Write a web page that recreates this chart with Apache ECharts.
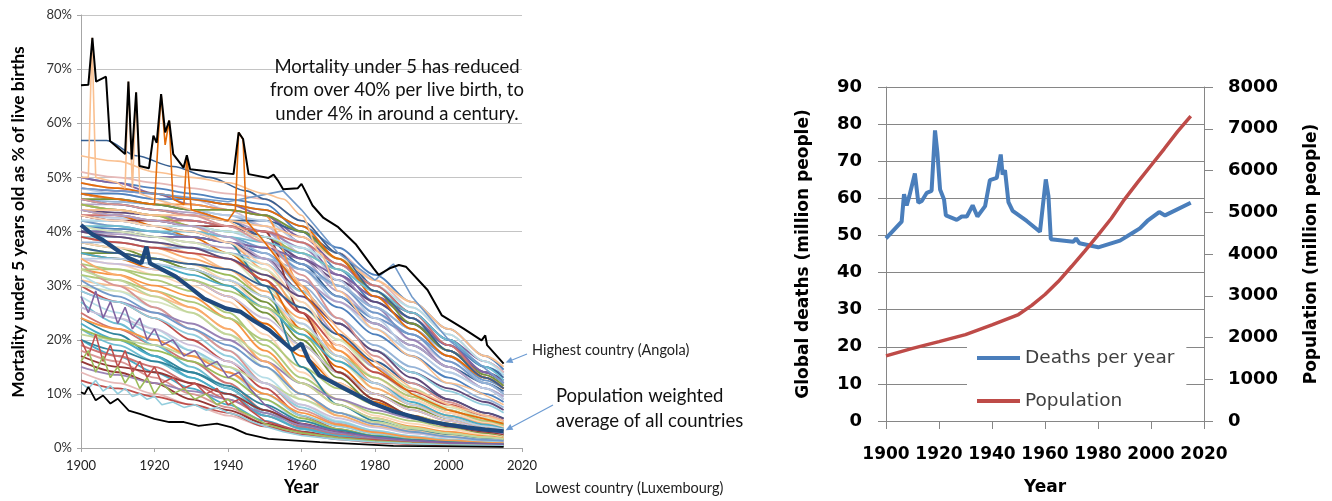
<!DOCTYPE html>
<html><head><meta charset="utf-8">
<script src="https://cdn.jsdelivr.net/npm/echarts@6/dist/echarts.min.js"></script>
<style>html,body{margin:0;padding:0;background:#fff}#c{width:1332px;height:501px}</style>
</head><body><div id="c"></div>
<script>
// ---------- LEFT CHART DATA (under-5 mortality, % of live births) ----------
const years = [1900,1910,1920,1930,1940,1950,1960,1970,1980,1990,2000,2010,2015];
const countryRates = [
  [50,49,48,47,46,45,40,33,27,23,19,15,13.5],
  [40,39,38,36,33,28,22,16,12,9,6.5,4.5,3.8],
  [28,25,22,18,14,9,5,3,2,1.4,1,0.7,0.6],
  [48,47.5,47,46,45,43,38,32,28,25,20,16,14],
  [38,37,35,33,30,25,19,14,10,7.5,5.5,4,3.2],
  [25,22,19,16,12,7,4,2.5,1.6,1.1,0.8,0.6,0.5],
  [46,45.5,45,44,43,41,36,30,26,22,18,14,12],
  [36,35,33,31,28,23,17,12,8.5,6,4.5,3.2,2.6],
  [22,19,16,13,10,6,3.5,2.2,1.5,1,0.7,0.5,0.4],
  [45,45,44,43.5,42,40,35,29,24,21,17,13,11.5],
  [42,41,39,37,35,30,23,16,11,8,6,4.2,3.5],
  [30,27,24,20,16,11,6,3.5,2.2,1.5,1.1,0.8,0.7],
  [47,46,45,44,42,39,34,28,23,19,15,12,10.5],
  [35,34,32,30,27,21,14,9,6,4.5,3.5,2.5,2],
  [20,17,14,11,8,5,3,2,1.3,0.9,0.6,0.5,0.4],
  [44,43.5,43,42,41,39,35,31,27,23,18,14,12.5],
  [34,33,31,29,25,19,13,9,6.5,5,3.8,2.8,2.3],
  [18,16,13,10,7.5,4.5,2.8,1.8,1.2,0.8,0.6,0.4,0.35],
  [43,42.5,42,41,40,38,33,27,22,18,14,11,9.5],
  [39,38,37,35,33,29,24,18,13,9.5,7,5,4.2],
  [26,24,21,18,15,10,6,4,2.6,1.8,1.2,0.9,0.8],
  [49,48,47,46,44,41,36,30,25,20,16,12,10],
  [37,36,35,34,32,28,21,14,9,6,4.2,3,2.5],
  [16,14,12,9,7,4.5,3,2,1.3,0.9,0.6,0.45,0.4],
  [42,42,41,40,39,37,33,28,24,21,17,12.5,11],
  [33,32,30,28,24,18,12,8,5.5,4,3,2.2,1.8],
  [24,21,17,14,11,7,4.2,2.7,1.7,1.2,0.8,0.6,0.5],
  [45,44,43,42,41,40,37,32,26,20,15,11,9],
  [41,40,39,38,36,32,26,20,15,11,8,5.5,4.6],
  [14,12,10,8,6,4,2.6,1.8,1.1,0.8,0.5,0.4,0.35],
  [41,40.5,40,39,38,36,31,26,21,17,13,10,8.5],
  [31,30,28,26,22,16,10,6.5,4.5,3.2,2.4,1.8,1.5],
  [32,29,26,22,18,13,8,5,3.2,2.2,1.5,1.1,0.9],
  [50,49,47,45,44,43,39,34,29,24,19,14,12],
  [36,36,35,33,31,27,20,13,8,5.5,4,2.8,2.3],
  [19,17,15,12,9,6,3.8,2.5,1.6,1.1,0.8,0.6,0.5],
  [44,43,42,41,39,36,30,24,19,15,12,9,7.5],
  [44,43,41,39,36,31,22,15,10,7,5,3.6,3],
  [27,23,19,15,11,6.5,3.5,2.2,1.4,1,0.7,0.5,0.45],
  [40,39.5,39,38,37,35,31,27,23,19,15,11,9.5],
  [30,29,27,25,21,15,9,6,4,3,2.2,1.6,1.3],
  [12.5,11,9.5,8,6.5,4,2.5,1.6,1,0.7,0.5,0.4,0.3],
  [46,45,44,43,42,42,40,36,30,25,20,15,13],
  [38,37,36,34,31,26,18,12,8,5.5,4,3,2.4],
  [23,20,17,13,10,6,3.6,2.3,1.5,1.1,0.8,0.6,0.5],
  [43,42,41,40,38,35,29,23,18,14,11,8.5,7],
  [32,31,29,27,24,20,15,11,8,6,4.5,3.4,2.8],
  [34,30,26,22,18,12,7,4.5,3,2,1.4,1,0.8],
  [48,47,46,44,43,42,38,31,24,18,14,11,9],
  [45,44,43,41,38,33,25,17,11,8,6,4.5,3.8],
  [39,39,38,37,36,34,29,23,18,14,10.5,8,6.5],
  [35,34,33,31,28,24,19,14,10,7,5,3.6,3],
  [45,44,43,41,40,39,36,33,29,24,18,13,11],
  [43,42,42,41,41,40,25,14,9,6,4,3,2.5],
  [42,41,40,39,38,37,34,30,25,21,16,12,10],
  [47,46,45,45,44,43,30,18,12,8,5.5,4,3.3],
  [40,40,39,39,38,30,15,8,5,3.5,2.6,1.9,1.6],
  [29,27,25,23,20,16,12,9,7,5.5,4.2,3.2,2.7],
  [21,20,19,17,15,12,9,6.5,4.8,3.6,2.7,2,1.7],
  [51,50,49,48,47,46,42,36,31,26,21,16,14],
  [47,47,46,46,45,44,41,37,32,27,22,17,14.5],
  [44,44,43,43,42,41,39,35,31,27,22,17,15],
  [42,42,41,41,40,39,37,34,30,26,21,16,13.5],
  [40,40,39,39,38,37,35,32,28,24,19,14,12],
  [46,46,45,44,44,43,40,35,29,23,18,13.5,11.5],
  [43,43,42,42,41,40,38,34,30,25,19,13,11],
  [38,38,37,37,36,35,33,30,26,22,17,12,10],
  [49,48,47,46,45,44,41,35,28,22,17,13,11],
  [41,41,40,40,39,38,36,33,29,25,20,15,12.5],
  [44,43,42,41,39,35,28,21,15,10,7,5,4.2],
  [41,40,39,38,36,33,27,20,14,10,7.5,5.5,4.6],
  [39,38,37,36,35,31,25,19,14,10.5,8,6,5],
  [37,36,35,34,33,30,26,21,16,12,9,6.5,5.5],
  [43,42,41,40,38,34,27,19,13,9,6.5,4.8,4],
  [36,35,34,32,30,26,21,16,12,8.5,6,4.3,3.6],
  [40,39,38,37,35,32,28,23,18,13,9,6.5,5.4],
  [33,33,32,31,29,26,22,17,13,9.5,7,5,4.2],
  [46,45,44,43,41,38,32,24,17,12,8.5,6,5],
  [35,35,34,33,31,28,23,17,12,8,5.5,4,3.4],
  [35,32,29,26,22,16,10,6,4,2.8,2,1.4,1.2],
  [29,27,24,21,17,12,7.5,4.8,3.2,2.2,1.6,1.2,1],
  [26,24,22,19,16,12,8,5.5,3.8,2.7,2,1.5,1.3],
  [22,20,18,16,13,9,5.5,3.5,2.3,1.6,1.1,0.8,0.7],
  [17,15,14,12,10,7,4.5,3,2,1.4,1,0.7,0.6],
  [31,28,25,22,19,15,10,6.5,4.4,3,2.1,1.5,1.3],
  [24,22,20,17,14,10,6.5,4.3,2.9,2,1.4,1,0.9],
  [20,18,16,14,11.5,8,5,3.3,2.2,1.5,1.1,0.8,0.7],
  [15,13.5,12,10.5,9,6.5,4.2,2.8,1.9,1.3,0.9,0.7,0.6],
  [33,31,28,25,21,17,12,8,5.5,3.8,2.7,2,1.7]
];
const palette = ['#4F81BD','#C0504D','#9BBB59','#8064A2','#4BACC6','#F79646','#95B3D7','#D99694','#C3D69B','#B3A2C7','#93CDDD','#FAC090','#376092','#953735','#77933C','#604A7B','#31859C','#E46C0A','#B9CDE5','#E6B9B8','#D7E4BD','#CCC1DA','#B7DEE8','#FCD5B5','#729ACA','#CD7371','#AFC97A','#9983B5','#6FBDD1','#F9AB6B'];

const noisyYears = [1900,1902,1904,1906,1908,1910,1912,1914,1916,1918,1920,1922,1925,1928,1931,1934,1937,1940,1943,1946,1950,1955,1960,1970,1980,1990,2000,2015];
const noisyRedRates = [20,17,21,16,19,15,18,14,16,13,15,12,13,11,12,10,11,8,9,7,5,4,3,2,1.5,1,0.7,0.5];
const noisyGreenRates = [16,18,14,17,13,15,12,14,11,13,10,12,10,11,9,10,8,9,7,6,4.5,3.5,2.8,1.9,1.3,0.9,0.6,0.4];
const noisyPurpleRates = [28,25,29,24,27,23,26,22,24,20,22,19,20,17,18,15,16,13,14,11,8,6,4.5,3,2,1.4,1,0.7];
const noisyTealRates = [12,11,12.5,10.5,11.5,10,11,9.5,10,9,9.5,8,8.5,7.5,8,7,7.5,6.5,6,5,4,3,2.3,1.6,1.1,0.8,0.6,0.4];

const spikeAYears = [1900,1902,1903,1904,1910,1912,1912.9,1914,1915,1916,1920,1925,1930,1940,1950,1960,1970,1980,1990,2000,2015];
const spikeARates = [50,50,75.8,50,49,48,67.7,48,65.7,47,46,45,44,42,38,30,22,16,11,8,5];
const spikeBYears = [1900,1920,1921,1921.8,1922.9,1924,1925,1928,1928.8,1930,1940,1942,1942.9,1944.1,1945,1950,1960,1970,1980,1990,2000,2015];
const spikeBRates = [47,45,57,65.4,56,60.5,46,45,54,44,42,44,58.3,57,42,38,29,21,15,10,7,4.5];

const topBlueYears = [1900,1907,1915,1925,1935,1945,1950,1960,1970,1980,1990,2000,2010,2015];
const topBlueRates = [56.8,56.8,54,52,50,47.5,46,42,36,29,24,18,13,11];
const risingBlueYears = [1900,1920,1940,1955,1960,1970,1980,1985,1990,2000,2015];
const risingBlueRates = [48,47,45.5,47.5,44,36,31,34,28,20,12];
const peachYears = [1900,1910,1920,1930,1940,1950,1955,1960,1965,1970,1980,1990,2000,2015];
const peachRates = [54,53,51,50,49,47,46,43,36,29,22,17,12,8];

const highestYears = [1900,1902,1903.1,1904.1,1906.8,1907.9,1912,1912.9,1913.8,1915,1915.9,1918.5,1919.7,1920.6,1921.8,1922.9,1924,1925.1,1927.9,1928.8,1929.7,1941.5,1942.9,1944.1,1945.6,1951,1952.4,1953.5,1955,1959,1960,1961,1963,1966,1970,1974.7,1979.6,1981,1984,1986.5,1988.4,1994.3,1998.2,2004,2009,2010,2010.5,2015];
const highestRates = [67,67.1,75.8,67.7,68.6,56.7,54.3,67.7,53.3,65.7,52.1,51.7,57.7,56.4,65.4,58.3,60.5,54.3,51.8,54.1,51.5,50.6,58.3,57.1,50.6,49.9,50.5,49.5,47.8,48,48.8,47.5,44.8,42.5,40.8,37.7,33.2,32,33.2,33.8,33.5,29.2,24.5,22.1,19.9,20.8,19,15.6];
const lowestYears = [1900,1901,1902,1904,1906,1908,1910,1913,1916,1920,1924,1928,1932,1937,1941,1945,1951,1965,1985,2015];
const lowestRates = [10.3,10,11.3,8.8,9.7,8.2,9.1,6.9,6.3,5.4,4.8,4.8,4.1,4.5,3.8,2.6,1.7,1.1,0.4,0.2];
const averageYears = [1900,1903,1906,1910,1913,1916.4,1917.8,1918.8,1922,1925.7,1930,1933.5,1939.4,1943.3,1947,1951.2,1957.5,1959,1960,1962,1964.9,1970.8,1975,1979.6,1985,1990,1995,2000,2005,2010,2015];
const averageRates = [41.2,39.5,38.4,36.5,35.1,34.1,37.2,34.1,33,31.7,29.5,27.6,25.8,25.2,23.5,21.8,18.1,18.8,19.3,16.2,13.4,11.3,9.8,8.2,6.8,5.8,4.9,4.3,3.8,3.4,3.1];

// ---------- RIGHT CHART DATA ----------
const deathYears = [1900,1905.9,1906.8,1907.8,1908.8,1910.9,1912.2,1913.5,1915.4,1917.2,1918.5,1919.4,1920.4,1921.9,1922.6,1926.7,1928.6,1930.5,1932.7,1934.5,1937.4,1939.2,1941.8,1943.3,1944,1944.9,1946.2,1947.8,1953.1,1958.1,1960.3,1961.3,1962.2,1970.7,1971.7,1973,1980.1,1988.3,1993.3,1995.8,1998.6,2003.1,2005.3,2015];
const deathValues = [49.2,53.7,61.1,58.1,60.6,66.7,58.8,59.3,61.5,62,78.3,72.2,62.4,59.7,55.4,54.2,55.1,55.1,58.1,55.1,57.9,64.9,65.5,71.8,66.4,67.6,59,56.6,53.9,51,65.1,60.6,49,48.3,49.2,47.9,46.8,48.6,50.8,51.9,53.9,56.3,55.4,58.8];
const popYears = [1900,1910,1920,1930,1940,1950,1955,1960,1965,1970,1975,1980,1985,1990,1995,2000,2005,2010,2015];
const popValues = [1560,1740,1900,2070,2300,2550,2770,3030,3340,3700,4070,4450,4850,5310,5720,6120,6520,6930,7300];

const zip = (xs, ys) => xs.map((x, i) => [x, ys[i]]);
const plain = v => String(v);

const series = [];
function addLeft(data, color, width, z, smooth) {
  series.push({type:'line', xAxisIndex:0, yAxisIndex:0, data, symbol:'none', silent:true,
    smooth: smooth ? 0.3 : false, smoothMonotone:'x', z,
    lineStyle:{width, color}, itemStyle:{color}});
}
countryRates.forEach((row, i) => addLeft(zip(years, row), palette[(i * 11) % palette.length], 1.8, 2, true));
addLeft(zip(noisyYears, noisyRedRates), '#C0504D', 1.6, 2, false);
addLeft(zip(noisyYears, noisyGreenRates), '#9BBB59', 1.6, 2, false);
addLeft(zip(noisyYears, noisyPurpleRates), '#8064A2', 1.6, 2, false);
addLeft(zip(noisyYears, noisyTealRates), '#93CDDD', 1.6, 2, false);
addLeft(zip(topBlueYears, topBlueRates), '#376092', 1.6, 2, true);
addLeft(zip(risingBlueYears, risingBlueRates), '#729ACA', 1.6, 2, false);
addLeft(zip(peachYears, peachRates), '#FAC090', 1.6, 2, true);
addLeft(zip(spikeAYears, spikeARates), '#FAC090', 1.6, 3, false);
addLeft(zip(spikeBYears, spikeBRates), '#E46C0A', 1.6, 3, false);
addLeft(zip(highestYears, highestRates), '#000000', 2, 4, false);
addLeft(zip(lowestYears, lowestRates), '#000000', 1.8, 4, false);
addLeft(zip(averageYears, averageRates), '#1F497D', 4.2, 5, false);

series.push({name:'Deaths per year', type:'line', xAxisIndex:1, yAxisIndex:1, data:zip(deathYears, deathValues),
  symbol:'none', z:3, lineStyle:{width:4, color:'#4A7EBB'}, itemStyle:{color:'#4A7EBB'}});
series.push({name:'Population', type:'line', xAxisIndex:1, yAxisIndex:2, data:zip(popYears, popValues),
  symbol:'none', z:3, lineStyle:{width:3.5, color:'#BE4B48'}, itemStyle:{color:'#BE4B48'}});

const LF = 'Lato';
const RF = 'DejaVu Sans';
const option = {
  animation:false,
  backgroundColor:'#fff',
  grid:[
    {left:81, right:810, top:15, bottom:53},
    {left:886, right:128, top:87, bottom:78}
  ],
  xAxis:[
    {gridIndex:0, type:'value', min:1900, max:2020, interval:20,
     name:'Year', nameLocation:'middle', nameGap:30,
     nameTextStyle:{fontFamily:LF, fontWeight:'bold', fontSize:18, color:'#000'},
     axisLine:{lineStyle:{color:'#A6A6A6'}}, axisTick:{show:true, length:4, lineStyle:{color:'#A6A6A6'}},
     axisLabel:{fontFamily:LF, fontSize:13, color:'#222', margin:11, formatter:plain, showMinLabel:true, showMaxLabel:true},
     splitLine:{show:false}},
    {gridIndex:1, type:'value', min:1900, max:2020, interval:20,
     name:'Year', nameLocation:'middle', nameGap:58,
     nameTextStyle:{fontFamily:RF, fontWeight:'bold', fontSize:17, color:'#000'},
     axisLine:{lineStyle:{color:'#868686'}}, axisTick:{show:true, length:8, lineStyle:{color:'#868686'}},
     axisLabel:{fontFamily:RF, fontWeight:'bold', fontSize:17, color:'#000', margin:25, formatter:plain,
       showMinLabel:true, showMaxLabel:true, hideOverlap:false},
     splitLine:{show:false}}
  ],
  yAxis:[
    {gridIndex:0, type:'value', min:0, max:80, interval:10,
     axisLine:{show:true, lineStyle:{color:'#A6A6A6'}}, axisTick:{show:true, length:4, lineStyle:{color:'#A6A6A6'}},
     axisLabel:{fontFamily:LF, fontSize:13, color:'#333', margin:9, formatter:'{value}%'},
     splitLine:{show:true, lineStyle:{color:'#C4C4C4', width:1}}},
    {gridIndex:1, type:'value', min:0, max:90, interval:10,
     name:'Global deaths (million people)', nameLocation:'middle', nameGap:74,
     nameTextStyle:{fontFamily:RF, fontWeight:'bold', fontSize:17, color:'#000'},
     axisLine:{show:true, lineStyle:{color:'#868686'}}, axisTick:{show:true, length:8, lineStyle:{color:'#868686'}},
     axisLabel:{fontFamily:RF, fontWeight:'bold', fontSize:18, color:'#000', margin:24, formatter:plain},
     splitLine:{show:true, lineStyle:{color:'#868686', width:1}}},
    {gridIndex:1, type:'value', min:0, max:8000, interval:1000, position:'right',
     name:'Population (million people)', nameLocation:'middle', nameGap:99,
     nameTextStyle:{fontFamily:RF, fontWeight:'bold', fontSize:17, color:'#000'},
     axisLine:{show:true, lineStyle:{color:'#868686'}}, axisTick:{show:true, length:9, lineStyle:{color:'#868686'}},
     axisLabel:{fontFamily:RF, fontWeight:'bold', fontSize:18, color:'#000', margin:24, formatter:plain},
     splitLine:{show:false}}
  ],
  legend:{data:['Deaths per year','Population'], orient:'vertical', left:967, top:340,
    padding:[8,12,10,10], backgroundColor:'#fff', itemWidth:43, itemHeight:4, itemGap:23, icon:'rect',
    textStyle:{fontFamily:RF, fontSize:18.5, color:'#404040', lineHeight:20}},
  series
};
const chart = echarts.init(document.getElementById('c'), null, {renderer:'canvas'});
chart.setOption(option);

function arrow(x1, y1, x2, y2, color) {
  const ang = Math.atan2(y2 - y1, x2 - x1), L = 7, W = 3.2;
  const bx = x2 - L * Math.cos(ang), by = y2 - L * Math.sin(ang);
  return [
    {type:'line', shape:{x1, y1, x2:bx, y2:by}, style:{stroke:color, lineWidth:1.2}, z:20},
    {type:'polygon', shape:{points:[[x2,y2],[bx - W*Math.sin(ang), by + W*Math.cos(ang)],[bx + W*Math.sin(ang), by - W*Math.cos(ang)]]},
     style:{fill:color}, z:20}
  ];
}
const tipHigh = chart.convertToPixel({gridIndex:0}, [highestYears[highestYears.length-1], highestRates[highestRates.length-1]]);
const tipAvg = chart.convertToPixel({gridIndex:0}, [averageYears[averageYears.length-1], averageRates[averageRates.length-1]]);
const g = [
  {type:'text', x:18, y:222, rotation:Math.PI/2, z:20, style:{text:'Mortality under 5 years old as % of live births',
    fontFamily:'Lato', fontWeight:'bold', fontSize:17.5, align:'center', verticalAlign:'middle', fill:'#000'}},
  {type:'text', x:397, y:55, z:20, style:{text:'Mortality under 5 has reduced\nfrom over 40% per live birth, to\nunder 4% in around a century.',
    fontFamily:'Lato', fontSize:18.5, lineHeight:23.5, align:'center', verticalAlign:'top', fill:'#111'}},
  {type:'text', x:532, y:350, z:20, style:{text:'Highest country (Angola)', fontFamily:'Lato', fontSize:14.5, verticalAlign:'middle', fill:'#222'}},
  {type:'text', x:556, y:384, z:20, style:{text:'Population weighted\naverage of all countries', fontFamily:'Lato', fontSize:18.5, lineHeight:25, verticalAlign:'top', fill:'#111'}},
  {type:'text', x:535, y:488, z:20, style:{text:'Lowest country (Luxembourg)', fontFamily:'Lato', fontSize:14.5, verticalAlign:'middle', fill:'#222'}}
].concat(arrow(527, 354, tipHigh[0] + 2, tipHigh[1] - 1, '#6C9BD2'))
 .concat(arrow(553, 405, tipAvg[0] + 2, tipAvg[1] - 1, '#6C9BD2'));
chart.setOption({graphic:g});
</script></body></html>
